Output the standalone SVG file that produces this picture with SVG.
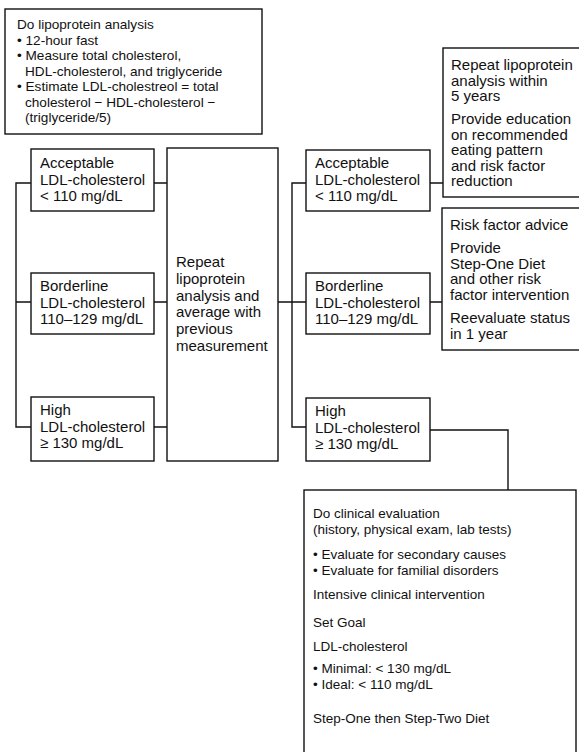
<svg xmlns="http://www.w3.org/2000/svg" width="579" height="752" viewBox="0 0 579 752">
<style>
rect{fill:#fff;stroke:#111;stroke-width:1.4}
text{font-family:"Liberation Sans",Arial,sans-serif;fill:#111}
.s14{font-size:13.6px}
.s15{font-size:15px}
.s13{font-size:13.5px}
.c{fill:none;stroke:#111;stroke-width:1.4}
</style>
<rect x="0" y="0" width="579" height="752" style="fill:#fff;stroke:none"/>
<g id="connectors">
<path class="c" d="M31,183 H16 V427 H31 M16,302 H31"/>
<path class="c" d="M154,183 H167 M154,302 H167 M154,427 H167"/>
<path class="c" d="M278,302 H306 M306,183 H292 V427 H306"/>
<path class="c" d="M430,183 H443 M430,302 H442"/>
<path class="c" d="M430,430 H508 V490"/>
</g>
<g id="n-analysis">
<rect x="5" y="9" width="257" height="125"/>
<text class="s14"><tspan x="17" y="29">Do lipoprotein analysis</tspan><tspan x="17" y="44.5">• 12-hour fast</tspan><tspan x="17" y="60">• Measure total cholesterol,</tspan><tspan x="25" y="75.5">HDL-cholesterol, and triglyceride</tspan><tspan x="17" y="91">• Estimate LDL-cholestreol = total</tspan><tspan x="25" y="106.5">cholesterol − HDL-cholesterol −</tspan><tspan x="25" y="122">(triglyceride/5)</tspan></text>
</g>
<g id="n-l-acc">
<rect x="31" y="149" width="123" height="62"/>
<text class="s15"><tspan x="40" y="168">Acceptable</tspan><tspan x="40" y="184.5">LDL-cholesterol</tspan><tspan x="40" y="201">&lt; 110 mg/dL</tspan></text>
</g>
<g id="n-l-bord">
<rect x="31" y="273" width="123" height="61"/>
<text class="s15"><tspan x="40" y="291">Borderline</tspan><tspan x="40" y="307.5">LDL-cholesterol</tspan><tspan x="40" y="324">110–129 mg/dL</tspan></text>
</g>
<g id="n-l-high">
<rect x="31" y="397" width="123" height="64"/>
<text class="s15"><tspan x="40" y="415">High</tspan><tspan x="40" y="431.5">LDL-cholesterol</tspan><tspan x="40" y="448">≥ 130 mg/dL</tspan></text>
</g>
<g id="n-repeat">
<rect x="167" y="148" width="111" height="313"/>
<text class="s15"><tspan x="176" y="267">Repeat</tspan><tspan x="176" y="284">lipoprotein</tspan><tspan x="176" y="300.5">analysis and</tspan><tspan x="176" y="317">average with</tspan><tspan x="176" y="334">previous</tspan><tspan x="176" y="350.5">measurement</tspan></text>
</g>
<g id="n-r-acc">
<rect x="306" y="150" width="124" height="61"/>
<text class="s15"><tspan x="315" y="168">Acceptable</tspan><tspan x="315" y="184.5">LDL-cholesterol</tspan><tspan x="315" y="201">&lt; 110 mg/dL</tspan></text>
</g>
<g id="n-r-bord">
<rect x="306" y="273" width="124" height="61"/>
<text class="s15"><tspan x="315" y="291">Borderline</tspan><tspan x="315" y="307.5">LDL-cholesterol</tspan><tspan x="315" y="324">110–129 mg/dL</tspan></text>
</g>
<g id="n-r-high">
<rect x="306" y="398" width="124" height="63"/>
<text class="s15"><tspan x="315" y="416">High</tspan><tspan x="315" y="432.5">LDL-cholesterol</tspan><tspan x="315" y="449">≥ 130 mg/dL</tspan></text>
</g>
<g id="n-repeat5">
<rect x="443" y="48" width="140" height="149"/>
<text class="s15"><tspan x="451" y="70">Repeat lipoprotein</tspan><tspan x="451" y="85.5">analysis within</tspan><tspan x="451" y="101">5 years</tspan><tspan x="451" y="124">Provide education</tspan><tspan x="451" y="139.5">on recommended</tspan><tspan x="451" y="155">eating pattern</tspan><tspan x="451" y="170.5">and risk factor</tspan><tspan x="451" y="186">reduction</tspan></text>
</g>
<g id="n-risk">
<rect x="442" y="208" width="141" height="142"/>
<text class="s15"><tspan x="450" y="230">Risk factor advice</tspan><tspan x="450" y="253">Provide</tspan><tspan x="450" y="268.5">Step-One Diet</tspan><tspan x="450" y="284">and other risk</tspan><tspan x="450" y="299.5">factor intervention</tspan><tspan x="450" y="323">Reevaluate status</tspan><tspan x="450" y="338.5">in 1 year</tspan></text>
</g>
<g id="n-clinical">
<rect x="304" y="490" width="272" height="270"/>
<text class="s13"><tspan x="313" y="518">Do clinical evaluation</tspan><tspan x="313" y="534">(history, physical exam, lab tests)</tspan><tspan x="313" y="559">• Evaluate for secondary causes</tspan><tspan x="313" y="575">• Evaluate for familial disorders</tspan><tspan x="313" y="599">Intensive clinical intervention</tspan><tspan x="313" y="627">Set Goal</tspan><tspan x="313" y="651">LDL-cholesterol</tspan><tspan x="313" y="673">• Minimal: &lt; 130 mg/dL</tspan><tspan x="313" y="689">• Ideal: &lt; 110 mg/dL</tspan><tspan x="313" y="723">Step-One then Step-Two Diet</tspan></text>
</g>
</svg>
